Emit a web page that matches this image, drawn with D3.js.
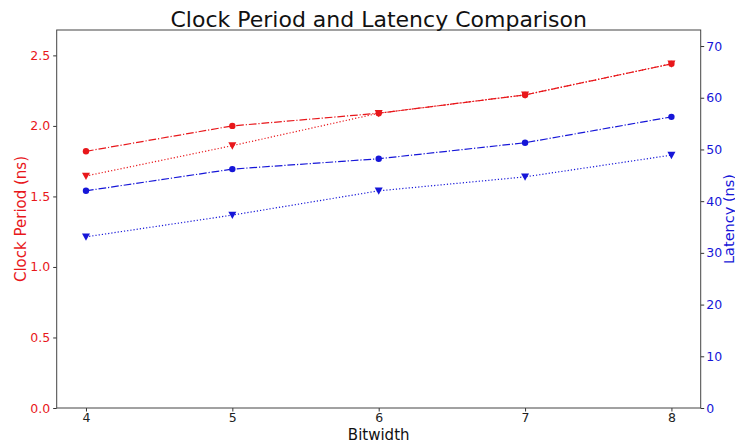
<!DOCTYPE html>
<html>
<head>
<meta charset="utf-8">
<script src="https://cdn.jsdelivr.net/npm/d3@7"></script>
<style>
  body { margin: 0; background: #fff; }
  text { font-family: "DejaVu Sans", sans-serif; }
</style>
</head>
<body>
<svg id="chart" width="735" height="443"></svg>
<script>
// Data
var bitwidths = [4, 5, 6, 7, 8];
var clockA = [1.82, 2.00, 2.09, 2.22, 2.44];   // red, dash-dot, circles
var clockB = [1.645, 1.86, 2.09, 2.22, 2.44];  // red, dotted, triangles
var latencyA = [42.0, 46.2, 48.2, 51.3, 56.3]; // blue, dash-dot, circles
var latencyB = [33.1, 37.3, 42.0, 44.7, 48.9]; // blue, dotted, triangles
var leftTicks = [0.0, 0.5, 1.0, 1.5, 2.0, 2.5];
var rightTicks = [0, 10, 20, 30, 40, 50, 60, 70];

var margin = {left: 56.7, right: 700.7, top: 30, bottom: 408};
var red = '#e8171b', blue = '#1616d8';

var svg = d3.select('#chart');

var xScale = d3.scaleLinear().domain([3.8, 8.2]).range([margin.left, margin.right]);
var yLeft = d3.scaleLinear().domain([0, 2.68]).range([margin.bottom, margin.top]);
var yRight = d3.scaleLinear().domain([0, 73.1]).range([margin.bottom, margin.top]);

// Axes
function styleAxis(g, color) {
	g.select('.domain').remove();
	g.selectAll('.tick line').attr('stroke', '#333').attr('stroke-width', 1);
	g.selectAll('.tick text').attr('fill', color).style('font-size', '12.5px')
			.style('font-family', '"DejaVu Sans", sans-serif');
}

svg.append('g')
		.attr('transform', 'translate(0,' + margin.bottom + ')')
		.call(d3.axisBottom(xScale).tickValues(bitwidths).tickFormat(d3.format('d')).tickSize(3.5).tickPadding(2))
		.call(g => styleAxis(g, '#222'));

svg.append('g')
		.attr('transform', 'translate(' + margin.left + ',0)')
		.call(d3.axisLeft(yLeft).tickValues(leftTicks).tickFormat(d3.format('.1f')).tickSize(3.5).tickPadding(3))
		.call(g => styleAxis(g, red));

svg.append('g')
		.attr('transform', 'translate(' + margin.right + ',0)')
		.call(d3.axisRight(yRight).tickValues(rightTicks).tickFormat(d3.format('d')).tickSize(3.5).tickPadding(2))
		.call(g => styleAxis(g, blue));

// Frame
svg.append('rect')
		.attr('x', margin.left).attr('y', margin.top)
		.attr('width', margin.right - margin.left)
		.attr('height', margin.bottom - margin.top)
		.attr('fill', 'none').attr('stroke', '#444').attr('stroke-width', 1);

// Series
var series = [
	{values: clockA, scale: yLeft, color: red, dash: '7.7,1.9,1.2,1.9', marker: 'circle'},
	{values: clockB, scale: yLeft, color: red, dash: '1.2,2', marker: 'tri'},
	{values: latencyA, scale: yRight, color: blue, dash: '7.7,1.9,1.2,1.9', marker: 'circle'},
	{values: latencyB, scale: yRight, color: blue, dash: '1.2,2', marker: 'tri'}
];

series.forEach(function(s) {
	var line = d3.line()
			.x((d, i) => xScale(bitwidths[i]))
			.y(d => s.scale(d));
	var g = svg.append('g');
	g.append('path')
			.attr('d', line(s.values))
			.attr('fill', 'none')
			.attr('stroke', s.color)
			.attr('stroke-width', 1.2)
			.attr('stroke-dasharray', s.dash);
	var pts = g.selectAll('.pt').data(s.values).enter();
	if (s.marker === 'circle') {
		pts.append('circle')
				.attr('cx', (d, i) => xScale(bitwidths[i]))
				.attr('cy', d => s.scale(d))
				.attr('r', 3.2)
				.attr('fill', s.color);
	} else {
		pts.append('path')
				.attr('transform', (d, i) => 'translate(' + xScale(bitwidths[i]) + ',' + s.scale(d) + ')')
				.attr('d', 'M-4,-3.3L4,-3.3L0,4Z')
				.attr('fill', s.color);
	}
});

// Labels
svg.append('text')
		.attr('x', (margin.left + margin.right) / 2).attr('y', 27)
		.attr('text-anchor', 'middle')
		.style('font-size', '22px').attr('fill', '#111')
		.text('Clock Period and Latency Comparison');

svg.append('text')
		.attr('x', (margin.left + margin.right) / 2).attr('y', 440)
		.attr('text-anchor', 'middle')
		.style('font-size', '15px').attr('fill', '#111')
		.text('Bitwidth');

svg.append('text')
		.attr('transform', 'translate(26,' + (margin.top + margin.bottom) / 2 + ') rotate(-90)')
		.attr('text-anchor', 'middle')
		.style('font-size', '15px').attr('fill', red)
		.text('Clock Period (ns)');

svg.append('text')
		.attr('transform', 'translate(733.5,' + (margin.top + margin.bottom) / 2 + ') rotate(-90)')
		.attr('text-anchor', 'middle')
		.style('font-size', '14.5px').attr('fill', blue)
		.text('Latency (ns)');
</script>
</body>
</html>
